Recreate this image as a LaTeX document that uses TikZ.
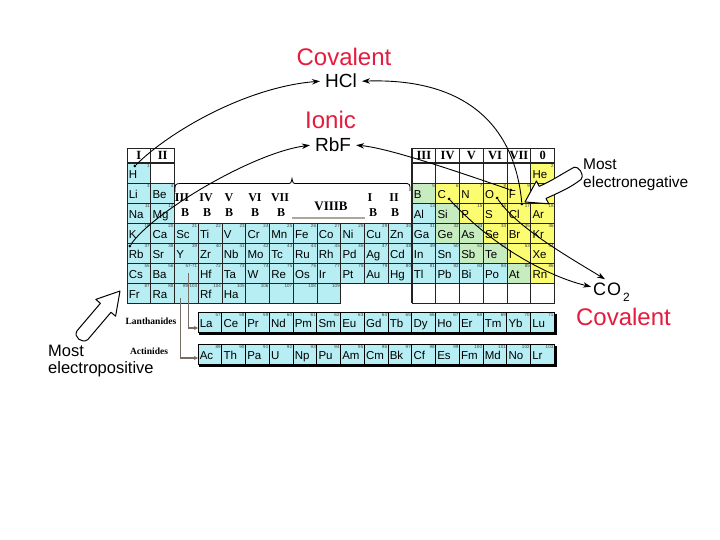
\documentclass[tikz,border=0pt]{standalone}
\usepackage{fontspec}
\setmainfont{Liberation Serif}
\setsansfont{Liberation Sans}
\usetikzlibrary{arrows.meta}
\definecolor{cyanc}{RGB}{182,238,243}
\definecolor{yelc}{RGB}{252,252,112}
\definecolor{grnc}{RGB}{198,236,192}
\definecolor{redc}{RGB}{228,28,62}
\definecolor{gridc}{RGB}{35,35,35}
\definecolor{linkc}{RGB}{120,110,100}
\definecolor{barc}{RGB}{175,165,155}
\tikzset{
 cellbox/.style={draw=gridc, line width=0.9pt, minimum width=23.75pt, minimum height=20pt, inner sep=0pt, outer sep=0pt, anchor=north west},
 hdrbox/.style={cellbox, minimum height=15pt, fill=white},
 symtxt/.style={font=\sffamily\fontsize{11.5}{12}\selectfont, inner sep=0pt, anchor=base west},
 numtxt/.style={font=\sffamily\fontsize{4.5}{5}\selectfont, inner sep=0pt, anchor=north east, text=black!75},
 hdr/.style={font=\bfseries\fontsize{12.5}{13}\selectfont, inner sep=0pt},
 midlab/.style={font=\bfseries\fontsize{12}{13}\selectfont, inner sep=0pt},
 bigred/.style={font=\sffamily\fontsize{24}{26}\selectfont, text=redc, inner sep=0pt},
 formula/.style={font=\sffamily\fontsize{19}{21}\selectfont, inner xsep=5pt, inner ysep=1pt},
 note/.style={font=\sffamily\fontsize{16}{17}\selectfont, inner sep=0pt, anchor=base west},
 bond/.style={line width=0.9pt, draw=black, -{Stealth[length=8pt,width=5.5pt]}},
 dotn/.style={circle, fill=black, minimum size=3pt, inner sep=0pt},
 holarrow/.style={draw=black, line width=1pt, fill=white, line join=round},
 fblk/.style={font=\bfseries\fontsize{9.5}{10}\selectfont, inner sep=0pt},
 fline/.style={draw=linkc, line width=1.6pt, -{Stealth[length=4pt,width=4pt]}},
 thickln/.style={draw=gridc, line width=1.8pt},
}
\newcommand{\elcell}[5]{%
  \pgfmathsetmacro{\elx}{127+(#1-1)*23.75}%
  \pgfmathsetmacro{\ely}{163+(#2-1)*20}%
  \node[cellbox, fill=#5] (c#1r#2) at (\elx,\ely) {};
  \node[symtxt] (s#1r#2) at ([shift={(1.6pt,-15.5pt)}]c#1r#2.north west) {#3};
  \node[numtxt] (n#1r#2) at ([shift={(-0.8pt,-0.8pt)}]c#1r#2.north east) {#4};
}
\newcommand{\fcell}[5]{%
  \pgfmathsetmacro{\elx}{198+(#1-1)*23.75}%
  \node[cellbox, fill=cyanc, draw=black] (#5#1) at (\elx,#2) {};
  \node[symtxt] (#5s#1) at ([shift={(1.6pt,-15.5pt)}]#5#1.north west) {#3};
  \node[numtxt] (#5n#1) at ([shift={(-0.8pt,-0.8pt)}]#5#1.north east) {#4};
}
\begin{document}
\begin{tikzpicture}[x=1pt,y=-1pt]
\useasboundingbox (0,0) rectangle (720,540);
\fill[white] (0,0) rectangle (720,540);

% header cells
\foreach \hd [count=\i] in {I,II} {
  \pgfmathsetmacro{\hx}{127+(\i-1)*23.75}
  \node[hdrbox] (hl\i) at (\hx,148) {};
  \node[hdr] (hlt\i) at (hl\i.center) {\hd};
}
\foreach \hd [count=\i from 13] in {III,IV,V,VI,VII,0} {
  \pgfmathsetmacro{\hx}{127+(\i-1)*23.75}
  \node[hdrbox] (hr\i) at (\hx,148) {};
  \node[hdr] (hrt\i) at (hr\i.center) {\hd};
}

% row 1
\elcell{1}{1}{H}{1}{cyanc}
\elcell{2}{1}{}{}{white}
\foreach \c in {13,...,17} {\elcell{\c}{1}{}{}{white}}
\elcell{18}{1}{He}{2}{yelc}
% row 2
\elcell{1}{2}{Li}{3}{cyanc}
\elcell{2}{2}{Be}{4}{cyanc}
\elcell{13}{2}{B}{5}{grnc}
\elcell{14}{2}{C}{6}{yelc}
\elcell{15}{2}{N}{7}{yelc}
\elcell{16}{2}{O}{8}{yelc}
\elcell{17}{2}{F}{9}{yelc}
\elcell{18}{2}{Ne}{10}{yelc}
% row 3
\elcell{1}{3}{Na}{11}{cyanc}
\elcell{2}{3}{Mg}{12}{cyanc}
\elcell{13}{3}{Al}{13}{cyanc}
\elcell{14}{3}{Si}{14}{grnc}
\elcell{15}{3}{P}{15}{yelc}
\elcell{16}{3}{S}{16}{yelc}
\elcell{17}{3}{Cl}{17}{yelc}
\elcell{18}{3}{Ar}{18}{yelc}
% row 4
\foreach \s/\n/\f [count=\i] in {K/19/cyanc,Ca/20/cyanc,Sc/21/cyanc,Ti/22/cyanc,V/23/cyanc,Cr/24/cyanc,Mn/25/cyanc,Fe/26/cyanc,Co/27/cyanc,Ni/28/cyanc,Cu/29/cyanc,Zn/30/cyanc,Ga/31/cyanc,Ge/32/grnc,As/33/grnc,Se/34/yelc,Br/35/yelc,Kr/36/yelc}{\elcell{\i}{4}{\s}{\n}{\f}}
% row 5
\foreach \s/\n/\f [count=\i] in {Rb/37/cyanc,Sr/38/cyanc,Y/39/cyanc,Zr/40/cyanc,Nb/41/cyanc,Mo/42/cyanc,Tc/43/cyanc,Ru/44/cyanc,Rh/45/cyanc,Pd/46/cyanc,Ag/47/cyanc,Cd/48/cyanc,In/49/cyanc,Sn/50/cyanc,Sb/51/grnc,Te/52/grnc,I/53/yelc,Xe/54/yelc}{\elcell{\i}{5}{\s}{\n}{\f}}
% row 6
\elcell{1}{6}{Cs}{55}{cyanc}
\elcell{2}{6}{Ba}{56}{cyanc}
\elcell{3}{6}{}{57-71}{cyanc}
\foreach \s/\n/\f [count=\i from 4] in {Hf/72/cyanc,Ta/73/cyanc,W/74/cyanc,Re/75/cyanc,Os/76/cyanc,Ir/77/cyanc,Pt/78/cyanc,Au/79/cyanc,Hg/80/cyanc,Tl/81/cyanc,Pb/82/cyanc,Bi/83/cyanc,Po/84/cyanc,At/85/grnc,Rn/86/yelc}{\elcell{\i}{6}{\s}{\n}{\f}}
% row 7
\elcell{1}{7}{Fr}{87}{cyanc}
\elcell{2}{7}{Ra}{88}{cyanc}
\elcell{3}{7}{}{89-103}{cyanc}
\elcell{4}{7}{Rf}{104}{cyanc}
\elcell{5}{7}{Ha}{105}{cyanc}
\elcell{6}{7}{}{106}{cyanc}
\elcell{7}{7}{}{107}{cyanc}
\elcell{8}{7}{}{108}{cyanc}
\elcell{9}{7}{}{109}{cyanc}
\foreach \c in {13,...,18} {\elcell{\c}{7}{}{}{white}}

% thick lines
\draw[thickln] (127,163) -- (174.5,163);
\draw[thickln] (411.75,163) -- (554.5,163);
\draw[thickln] (411.75,148) -- (411.75,303);
\draw[thickln] (554.5,148) -- (554.5,303);

% brace and sub-group labels
\draw[line width=0.8pt] (175,192) .. controls (175,184) .. (180,183.5) -- (287,183.5) .. controls (291,183.5) .. (292,178.5) .. controls (293,183.5) .. (297,183.5) -- (404,183.5) .. controls (410,183.5) .. (410,191);
\foreach \t/\xx [count=\i] in {III/182,IV/206,V/229,VI/255,VII/280} {
  \node[midlab] (mt\i) at (\xx,197.5) {\t};
}
\foreach \xx [count=\i] in {185,207,229,255,281} {
  \node[midlab] (mb\i) at (\xx,213) {B};
}
\node[midlab, font=\bfseries\fontsize{13}{14}\selectfont] (viiib) at (331,206) {VIIIB};
\draw[draw=barc, line width=2pt] (292,218) -- (365,218);
\node[midlab] (mti) at (370,197.5) {I};
\node[midlab] (mtii) at (394,197.5) {II};
\node[midlab] (mbi) at (373,213) {B};
\node[midlab] (mbii) at (395,213) {B};

% f-block
\fill[black] (199,314) rectangle (556.5,334.5);
\fill[black] (199,346) rectangle (556.5,366.5);
\foreach \s/\n [count=\i] in {La/57,Ce/58,Pr/59,Nd/60,Pm/61,Sm/62,Eu/63,Gd/64,Tb/65,Dy/66,Ho/67,Er/68,Tm/69,Yb/70,Lu/71}{\fcell{\i}{312}{\s}{\n}{la}}
\foreach \s/\n [count=\i] in {Ac/89,Th/90,Pa/91,U/92,Np/93,Pu/94,Am/95,Cm/96,Bk/97,Cf/98,Es/99,Fm/100,Md/101,No/102,Lr/103}{\fcell{\i}{344}{\s}{\n}{ac}}
\node[fblk] (lanlab) at (151,321) {Lanthanides};
\node[fblk] (actlab) at (149,351) {Actinides};
\draw[fline] ([xshift=2pt]c3r6.center) |- ([yshift=-6pt]la1.west);
\draw[fline] ([xshift=-6pt,yshift=-5pt]c3r7.center) |- ([yshift=-4pt]ac1.west);

% hollow arrows
\draw[holarrow] (120,291) -- (115.6,316.2) -- (111,312.3) -- (87.7,339.7) .. controls (82,344) and (73,337) .. (77.1,330.7) -- (100.4,303.3) -- (95.8,299.4) -- cycle;
\draw[holarrow] (525,202) -- (548.8,203.8) -- (546,198.5) .. controls (560,192) and (570,188) .. (581,179.4) .. controls (585,174) and (578,166) .. (574.3,167.2) .. controls (565,172) and (550,182) .. (539.2,186.3) -- (536.4,181) -- cycle;

% labels
\node[bigred, anchor=base] (covtop) at (344,66) {Covalent};
\node[formula, anchor=base] (hcl) at (341,88) {HCl};
\node[bigred, anchor=base] (ionic) at (330.5,129) {Ionic};
\node[formula, anchor=base] (rbf) at (333,152) {RbF};
\node[formula, anchor=base west, inner xsep=2pt, font=\sffamily\fontsize{18}{20}\selectfont] (co2) at (591,295) {C\kern1pt O\kern2pt\raisebox{-6pt}{\fontsize{12}{12}\selectfont 2}};
\node[bigred, anchor=base] (covbot) at (623.5,325) {Covalent};
\node[note, font=\sffamily\fontsize{15.5}{17}\selectfont] (neg1) at (583,170) {Most};
\node[note, font=\sffamily\fontsize{15.5}{17}\selectfont] (neg2) at (583,187.5) {electronegative};
\node[note, font=\sffamily\fontsize{16.5}{17}\selectfont] (pos1) at (48,356) {Most};
\node[note, font=\sffamily\fontsize{16.5}{17}\selectfont] (pos2) at (48,373) {electropositive};

% bonds
\node[dotn] (hdot) at ([shift={(-4pt,7pt)}]c1r1.center) {};
\node[dotn] (cldot) at ([shift={(3pt,9pt)}]c17r3.center) {};
\node[dotn] (rbdot) at ([shift={(-9pt,7pt)}]c1r5.center) {};
\node[dotn] (fdot) at ([shift={(-8pt,3pt)}]c17r2.center) {};
\node[dotn] (cdot) at ([shift={(1.5pt,-6pt)}]c14r2.center) {};
\node[dotn] (odot) at ([shift={(2pt,-5pt)}]c16r2.center) {};
\draw[bond] (hdot) .. controls (170,131) and (247,87) .. (hcl.west);
\draw[bond] (cldot) .. controls (514,120) and (460,78) .. (hcl.east);
\draw[bond] (rbdot) .. controls (152,213) and (252,153) .. (rbf.west);
\draw[bond] (fdot) .. controls (470,176) and (390,148) .. (rbf.east);
\draw[bond] (cdot) .. controls (494,248) and (550,277) .. ([yshift=5pt]co2.west);
\draw[bond] (odot) .. controls (517,228) and (572,259) .. ([xshift=14pt,yshift=2pt]co2.north west);
\end{tikzpicture}
\end{document}
